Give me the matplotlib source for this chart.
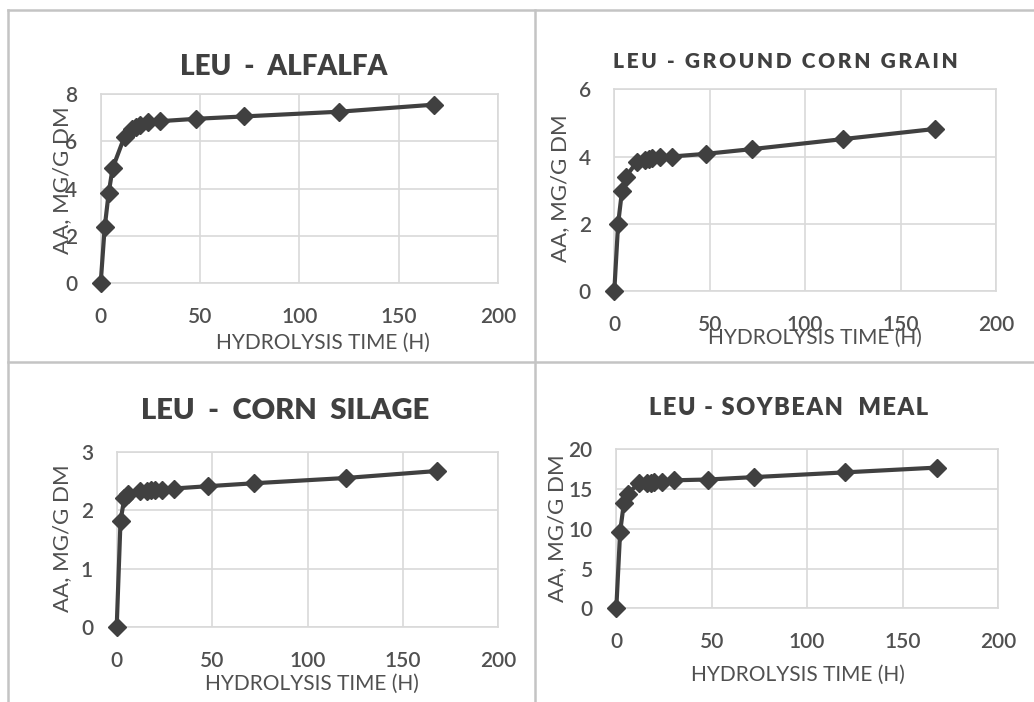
import matplotlib
matplotlib.use("Agg")
import matplotlib.pyplot as plt
from matplotlib.lines import Line2D

W, H = 1034, 702

# ---- data ----
hours = [0, 2, 4, 6, 12, 16, 18, 20, 24, 30, 48, 72, 120, 168]
alfalfa = [0.0, 2.35, 3.8, 4.86, 6.2, 6.5, 6.6, 6.7, 6.8, 6.85, 6.95, 7.05, 7.25, 7.55]
ground_corn = [0.0, 2.0, 2.96, 3.4, 3.85, 3.9, 3.93, 3.96, 4.0, 4.0, 4.08, 4.22, 4.52, 4.82]
corn_silage = [0.0, 1.82, 2.2, 2.28, 2.33, 2.33, 2.34, 2.34, 2.35, 2.37, 2.41, 2.46, 2.55, 2.67]
soybean = [0.0, 9.6, 13.3, 14.4, 15.8, 15.8, 15.8, 15.9, 15.9, 16.1, 16.2, 16.5, 17.1, 17.7]

titles = ["LEU  -  ALFALFA", "LEU - GROUND CORN GRAIN",
          "LEU  -  CORN  SILAGE", "LEU - SOYBEAN  MEAL"]
x_ticks = [0, 50, 100, 150, 200]
y_ticks = [[0, 2, 4, 6, 8], [0, 2, 4, 6], [0, 1, 2, 3], [0, 5, 10, 15, 20]]
xlabel = "HYDROLYSIS TIME (H)"
ylabel = "AA, MG/G DM"

series = [alfalfa, ground_corn, corn_silage, soybean]


def spaced(s, gap):
    return gap.join(list(s))


# pixel layout: (x0, x200, y0, ytop)
boxes = [(100.7, 498, 283, 94), (614.3, 996, 291, 89.3),
         (116.7, 498.3, 627, 451.7), (616.3, 998, 608.3, 449.3)]
title_pos = [(284, 67, 20, None), (785, 62, 15, "\u2009"),
             (285, 411, 21, None), (789, 408, 17, "\u200a")]
xlab_pos = [(323, 343), (815, 338), (312, 684), (798, 675)]
ylab_pos = [(62, 180), (560, 188), (62, 538), (557, 528)]

TXT = "#505050"
LINE = "#404040"
GRID = "#d9d9d9"
FONT = ["Lato", "DejaVu Sans"]
plt.rcParams["font.family"] = FONT

fig = plt.figure(figsize=(W / 100, H / 100), dpi=100)
fig.patch.set_facecolor("white")

for i in range(4):
    x0, x1, y0, yt = boxes[i]
    ax = fig.add_axes([x0 / W, 1 - y0 / H, (x1 - x0) / W, (y0 - yt) / H])
    ax.plot(hours, series[i], color=LINE, lw=3, marker="D", ms=9,
            markerfacecolor=LINE, markeredgecolor=LINE, clip_on=False, zorder=3)
    ax.set_xlim(0, 200)
    ax.set_ylim(y_ticks[i][0], y_ticks[i][-1])
    ax.set_xticks(x_ticks)
    ax.set_yticks(y_ticks[i])
    ax.grid(True, color=GRID, lw=1.2)
    ax.set_axisbelow(True)
    for s in ax.spines.values():
        s.set_color(GRID)
        s.set_linewidth(1.2)
    ax.tick_params(length=0, colors=TXT, labelsize=15, pad=17)
    for lab in ax.get_xticklabels() + ax.get_yticklabels():
        lab.set_fontweight("semibold")
    tx, ty, ts, gap = title_pos[i]
    ttl = titles[i] if gap is None else spaced(titles[i], gap)
    fig.text(tx / W, 1 - ty / H, ttl, ha="center", va="center",
             fontsize=ts, fontweight="heavy", color="#404040")
    fig.text(xlab_pos[i][0] / W, 1 - xlab_pos[i][1] / H, xlabel, ha="center",
             va="center", fontsize=15, color=TXT)
    fig.text(ylab_pos[i][0] / W, 1 - ylab_pos[i][1] / H, ylabel, ha="center",
             va="center", fontsize=16, color=TXT, rotation=90)

# panel borders
bc = "#c4c4c4"
for xs, ys in [((8, 1034), (10, 10)), ((8, 8), (10, 702)), ((535, 535), (10, 702)),
               ((8, 1034), (362, 362))]:
    fig.add_artist(Line2D([x / W for x in xs], [1 - y / H for y in ys],
                          color=bc, lw=1.8, transform=fig.transFigure))

fig.savefig("out.png", dpi=100)
